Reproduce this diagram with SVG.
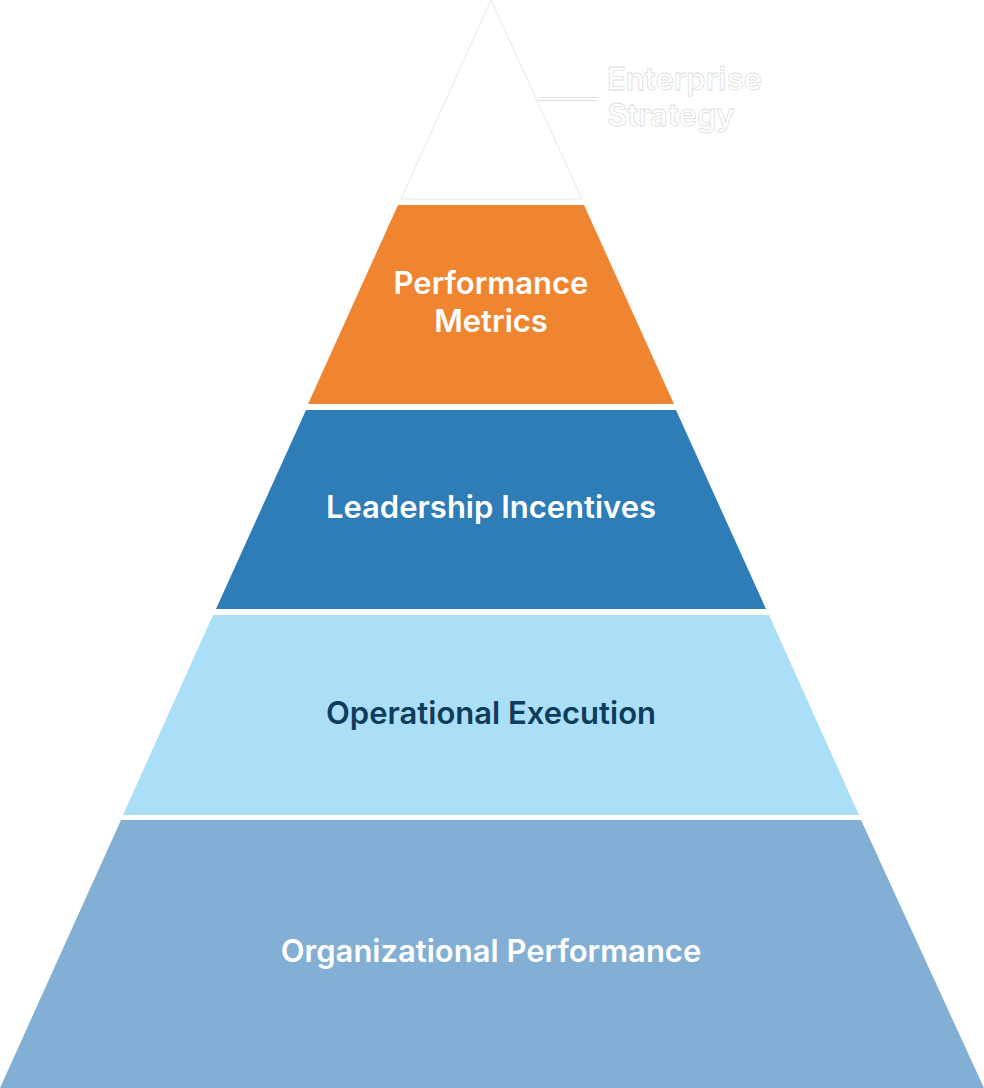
<svg xmlns="http://www.w3.org/2000/svg" width="984" height="1088" viewBox="0 0 984 1088">
<style>
.lbl{font-family:Inter,"Noto Sans",sans-serif;font-weight:600;font-size:31px;text-anchor:middle;fill:#ffffff}
.dark{fill:#0F3C5A}
.ghost{font-family:Inter,"Noto Sans",sans-serif;font-weight:600;font-size:31px;fill:#ffffff;stroke:#dedede;stroke-width:0.8}
</style>
<rect width="984" height="1088" fill="#ffffff"/>
<g id="enterprise-strategy">
<polygon points="491,0 582,199 401,199" fill="#ffffff" stroke="#e6e6e6" stroke-width="1"/>
<text class="ghost" x="607" y="90">Enterprise</text>
<text class="ghost" x="607" y="126">Strategy</text>
</g>
<g id="connectors">
<line x1="538" y1="99" x2="598" y2="99" stroke="#dedede" stroke-width="4"/>
<line x1="538" y1="99" x2="598" y2="99" stroke="#ffffff" stroke-width="2"/>
</g>
<g id="performance-metrics">
<polygon points="398,205 584,205 674,404 308,404" fill="#EF8530"/>
<text class="lbl" x="491" y="294">Performance</text>
<text class="lbl" x="491" y="332">Metrics</text>
</g>
<g id="leadership-incentives">
<polygon points="306,410 676,410 766,609 216,609" fill="#2E7DB7"/>
<text class="lbl" x="491" y="518">Leadership Incentives</text>
</g>
<g id="operational-execution">
<polygon points="213,615 769,615 859,815 123,815" fill="#AADFF7"/>
<text class="lbl dark" x="491" y="724">Operational Execution</text>
</g>
<g id="organizational-performance">
<polygon points="121,820 861,820 984,1088 0,1088" fill="#82AFD3"/>
<text class="lbl" x="491" y="962">Organizational Performance</text>
</g>
</svg>
